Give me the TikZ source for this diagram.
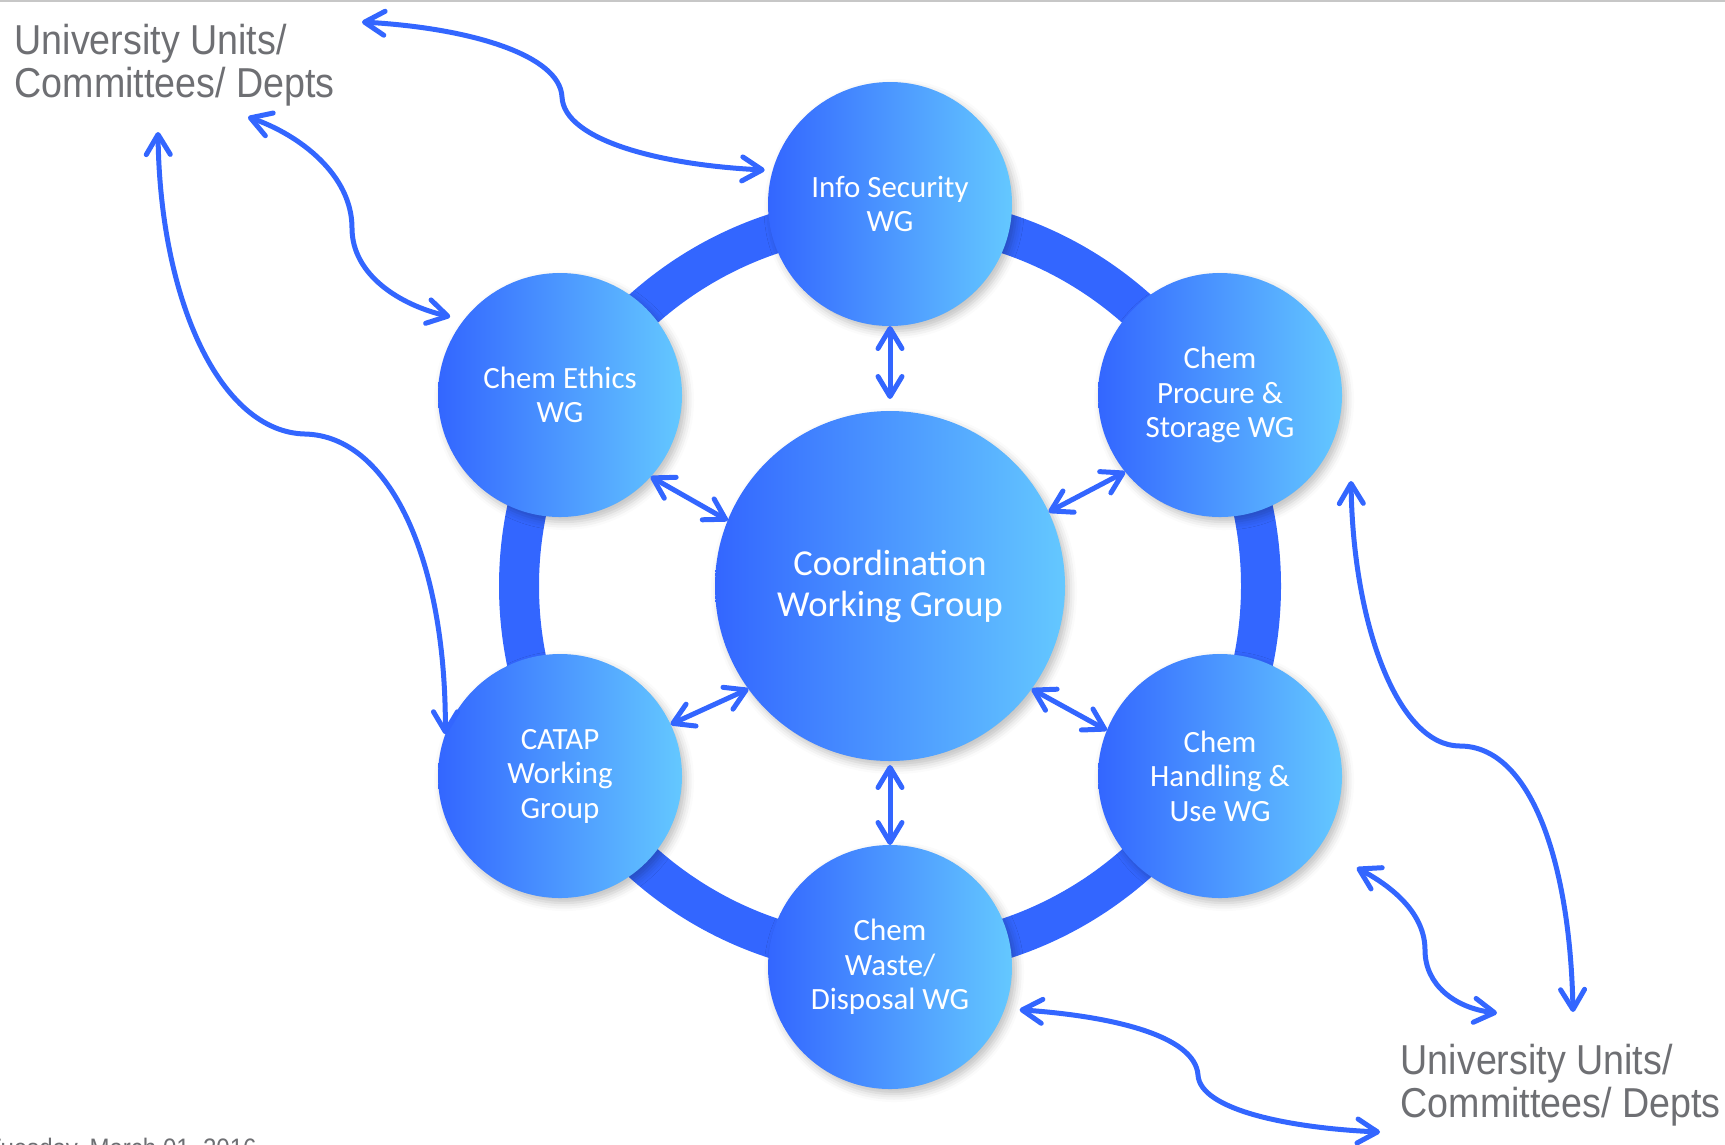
\documentclass[tikz,border=0pt]{standalone}
\usepackage{fontspec}
\setmainfont{Carlito}
\newfontfamily\unitfont[FakeStretch=0.9]{Liberation Sans}
\usetikzlibrary{arrows.meta,shadows.blur}
\definecolor{wgdark}{RGB}{51,102,255}
\definecolor{wglight}{RGB}{100,200,255}
\definecolor{linkblue}{RGB}{51,102,255}
\definecolor{unitgray}{RGB}{110,111,115}
\begin{document}
\begin{tikzpicture}[x=0.1mm,y=-0.1mm,
 wg/.style={circle,minimum size=24.4mm,inner sep=0pt,outer sep=0pt,left color=wgdark,right color=wglight,
  text=white,align=center,font=\fontsize{8.8}{9.8}\selectfont,
  blur shadow={shadow xshift=0.4mm,shadow yshift=-0.5mm,shadow opacity=25,shadow blur radius=0.8mm}},
 link/.style={draw=linkblue,line width=0.5mm,line cap=round,<->,>={Straight Barb[length=2mm,width=2.4mm,round]}},
 units/.style={anchor=north west,inner sep=0pt,align=left,text=unitgray,font=\unitfont\fontsize{11.9}{12.5}\selectfont}]
 \useasboundingbox (0,0) rectangle (1725,1144);
 \draw[black!22,line width=0.6pt] (0,1) -- (1725,1);
 \coordinate (mid) at (890,586);
 \draw[linkblue,line width=4mm] (mid) circle[radius=371];
 \node[wg,minimum size=35mm,font=\fontsize{10.4}{11.7}\selectfont] (cwg) at (mid) {Coordination\\Working Group};
 \node[wg] (info) at (890,204) {Info Security\\WG};
 \node[wg] (ethics) at (560,395) {Chem Ethics\\WG};
 \node[wg] (procure) at (1220,395) {Chem\\Procure \&\\Storage WG};
 \node[wg] (catap) at (560,776) {CATAP\\Working\\Group};
 \node[wg] (handling) at (1220,776) {Chem\\Handling \&\\Use WG};
 \node[wg] (waste) at (890,967) {Chem\\Waste/\\Disposal WG};
 \node[units] (unitsTL) at (14,23) {University Units/\\Committees/ Depts};
 \node[units] (unitsBR) at (1400,1043) {University Units/\\Committees/ Depts};
 \node[units,font=\unitfont\fontsize{7.6}{9}\selectfont] (date) at (-14,1137) {Tuesday, March 01, 2016};
 \coordinate (tlA) at (362,22);
 \coordinate (tlB) at (248,117);
 \coordinate (tlC) at (158,132);
 \coordinate (brA) at (1380,1132);
 \coordinate (brB) at (1497,1013);
 \coordinate (brC) at (1573,1012);
 \coordinate (procTip) at (1351,481);
 \draw[link,shorten >=1.2mm] (info.-90) -- (cwg.90);
 \draw[link] (ethics.-42) -- (cwg.158);
 \draw[link] (procure.-141) -- (cwg.25);
 \draw[link] (catap.25) -- (cwg.-144);
 \draw[link] (handling.158) -- (cwg.-36);
 \draw[link,shorten >=0.4mm] (waste.90) -- (cwg.-90);
 \draw[link,shorten >=0.8mm] (tlA) .. controls (470,28) and (560,55) .. (562,97) .. controls (564,140) and (660,165) .. (info.164);
 \draw[link,shorten >=1.4mm] (tlB) .. controls (300,135) and (352,175) .. (352,228) .. controls (352,275) and (400,305) .. (ethics.142);
 \draw[link] (tlC) .. controls (160,300) and (220,432) .. (305,434) .. controls (390,436) and (446,560) .. (catap.160);
 \draw[link,shorten <=1.5mm] (waste.-20) .. controls (1110,1016) and (1195,1035) .. (1198,1075) .. controls (1200,1110) and (1290,1128) .. (brA);
 \draw[link,shorten <=4.3mm] (handling.-36) .. controls (1395,888) and (1425,915) .. (1425,950) .. controls (1425,985) and (1455,1008) .. (brB);
 \draw[link] (procTip) .. controls (1353,625) and (1398,746) .. (1460,746) .. controls (1530,746) and (1570,860) .. (brC);
\end{tikzpicture}
\end{document}
